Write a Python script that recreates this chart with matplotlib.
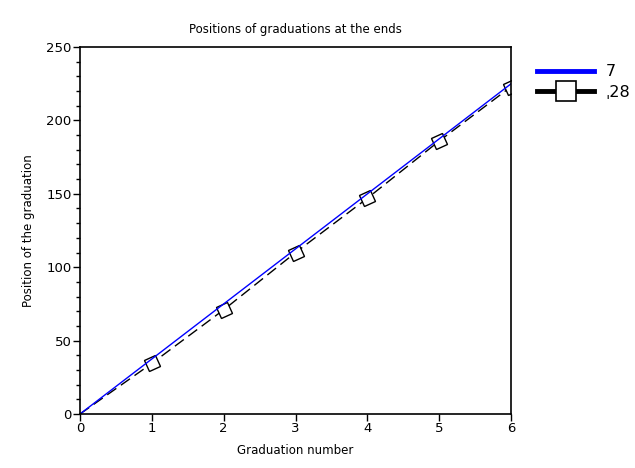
import matplotlib
matplotlib.use('Agg')
import matplotlib.pyplot as plt
from matplotlib.lines import Line2D
from matplotlib.markers import MarkerStyle
from matplotlib.transforms import Affine2D
from matplotlib.ticker import MultipleLocator

# data
grad_blue = [0, 6]
pos_blue = [0, 225]
grad_black = [0, 1, 2, 3, 4, 5, 6]
pos_black = [0, 34.5, 71, 110, 147, 186, 223]
legend_labels = ['7', '\u02cc28']

plt.rcParams['font.family'] = ['DejaVu Sans']

fig = plt.figure(figsize=(6.35, 4.68), dpi=100)
ax = fig.add_axes([0.126, 0.1154, 0.679, 0.7842])

tilted_square = MarkerStyle('s', transform=Affine2D().rotate_deg(25))

ax.plot(grad_black, pos_black, color='black', lw=1.0, dashes=(8, 4))
ax.plot(grad_black[1:], pos_black[1:], ls='none', marker=tilted_square,
        markersize=9, markerfacecolor='white', markeredgecolor='black', markeredgewidth=1.0)
ax.plot(grad_blue, pos_blue, color='#0000ff', lw=1.0)

ax.set_xlim(0, 6)
ax.set_ylim(0, 250)
ax.xaxis.set_major_locator(MultipleLocator(1))
ax.yaxis.set_major_locator(MultipleLocator(50))
ax.yaxis.set_minor_locator(MultipleLocator(10))
ax.tick_params(axis='both', which='major', direction='out', length=5, width=1, labelsize=9.5, pad=1)
ax.tick_params(axis='y', which='minor', direction='out', length=3, width=1)
for s in ax.spines.values():
    s.set_linewidth(1.2)

ax.set_title('Positions of graduations at the ends', fontsize=8.5, pad=10)
ax.set_xlabel('Graduation number', fontsize=8.5, labelpad=6)
ax.set_ylabel('Position of the graduation', fontsize=8.5, labelpad=8)

# legend outside the axes, thick handles
h1 = Line2D([], [], color='#0000ff', lw=3.5)
h2 = Line2D([], [], color='black', lw=3.5, marker='s', markersize=15,
            markerfacecolor='white', markeredgecolor='black', markeredgewidth=1.2)
ax.legend([h1, h2], legend_labels, loc='upper left', bbox_to_anchor=(1.045, 0.97),
          frameon=False, handlelength=3.6, numpoints=1, fontsize=11.5,
          handletextpad=0.7, labelspacing=0.35, borderaxespad=0)

fig.savefig('out.png', dpi=100)
